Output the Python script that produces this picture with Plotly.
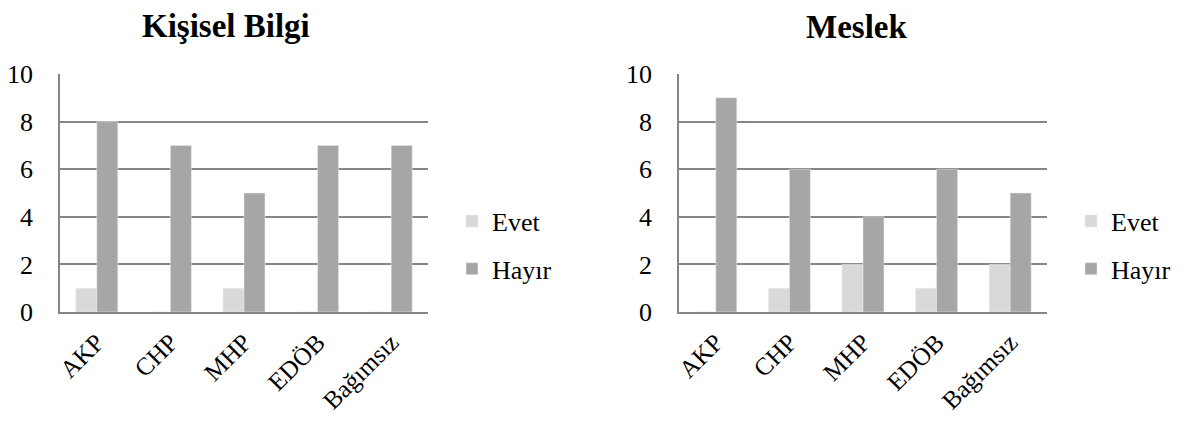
import plotly.graph_objects as go

# Party categories shared by both panels
parties = ["AKP", "CHP", "MHP", "EDÖB", "Bağımsız"]

# Panel 1: Kişisel Bilgi
kisisel_evet = [1, 0, 1, 0, 0]
kisisel_hayir = [8, 7, 5, 7, 7]

# Panel 2: Meslek
meslek_evet = [0, 1, 2, 1, 2]
meslek_hayir = [9, 6, 4, 6, 5]

y_ticks = [0, 2, 4, 6, 8, 10]

EVET_COLOR = "#D9D9D9"
HAYIR_COLOR = "#A6A6A6"
LINE_COLOR = "#868686"
FONT = "Liberation Serif"

W, H = 1186, 424

fig = go.Figure()

# left panel traces
fig.add_trace(go.Bar(x=parties, y=kisisel_evet, name="Evet", marker_color=EVET_COLOR,
                     xaxis="x", yaxis="y", legend="legend", legendgroup="e1"))
fig.add_trace(go.Bar(x=parties, y=kisisel_hayir, name="Hayır", marker_color=HAYIR_COLOR,
                     xaxis="x", yaxis="y", legend="legend", legendgroup="h1"))
# right panel traces
fig.add_trace(go.Bar(x=parties, y=meslek_evet, name="Evet", marker_color=EVET_COLOR,
                     xaxis="x2", yaxis="y2", legend="legend2", legendgroup="e2"))
fig.add_trace(go.Bar(x=parties, y=meslek_hayir, name="Hayır", marker_color=HAYIR_COLOR,
                     xaxis="x2", yaxis="y2", legend="legend2", legendgroup="h2"))


def px_x(p):
    return p / W


def px_y(p):
    return 1 - p / H


x_common = dict(
    showline=True, linecolor=LINE_COLOR, linewidth=1.5,
    showgrid=False, ticks="", tickangle=-45, automargin=False,
    tickfont=dict(family=FONT, size=25, color="black"),
    ticklabelstandoff=4,
)
y_common = dict(
    range=[0, 10], tickvals=y_ticks, automargin=False,
    showline=True, linecolor=LINE_COLOR, linewidth=1.5,
    showgrid=True, gridcolor=LINE_COLOR, gridwidth=1.5,
    zeroline=False, ticks="",
    tickfont=dict(family=FONT, size=26, color="black"),
    ticklabelstandoff=20,
)

legend_common = dict(
    font=dict(family=FONT, size=26, color="black"),
    traceorder="grouped", tracegroupgap=11,
    bgcolor="rgba(0,0,0,0)", xanchor="left", yanchor="middle",
    itemwidth=30,
)

fig.update_layout(
    width=W, height=H,
    margin=dict(l=0, r=0, t=0, b=0, autoexpand=False),
    paper_bgcolor="white", plot_bgcolor="white",
    barmode="group", bargap=0.43, bargroupgap=0,
    xaxis=dict(domain=[px_x(60), px_x(428)], anchor="y", **x_common),
    yaxis=dict(domain=[px_y(312), px_y(74)], anchor="x", **y_common),
    xaxis2=dict(domain=[px_x(679), px_x(1047)], anchor="y2", **x_common),
    yaxis2=dict(domain=[px_y(312), px_y(74)], anchor="x2", **y_common),
    legend=dict(x=px_x(452), y=px_y(245), **legend_common),
    legend2=dict(x=px_x(1071), y=px_y(245), **legend_common),
    annotations=[
        dict(text="<b>Kişisel Bilgi</b>", x=px_x(226), y=px_y(26), xref="paper", yref="paper",
             showarrow=False, xanchor="center", yanchor="middle",
             font=dict(family=FONT, size=33, color="black")),
        dict(text="<b>Meslek</b>", x=px_x(856), y=px_y(27), xref="paper", yref="paper",
             showarrow=False, xanchor="center", yanchor="middle",
             font=dict(family=FONT, size=33, color="black")),
    ],
)

fig.write_html("out.html")
